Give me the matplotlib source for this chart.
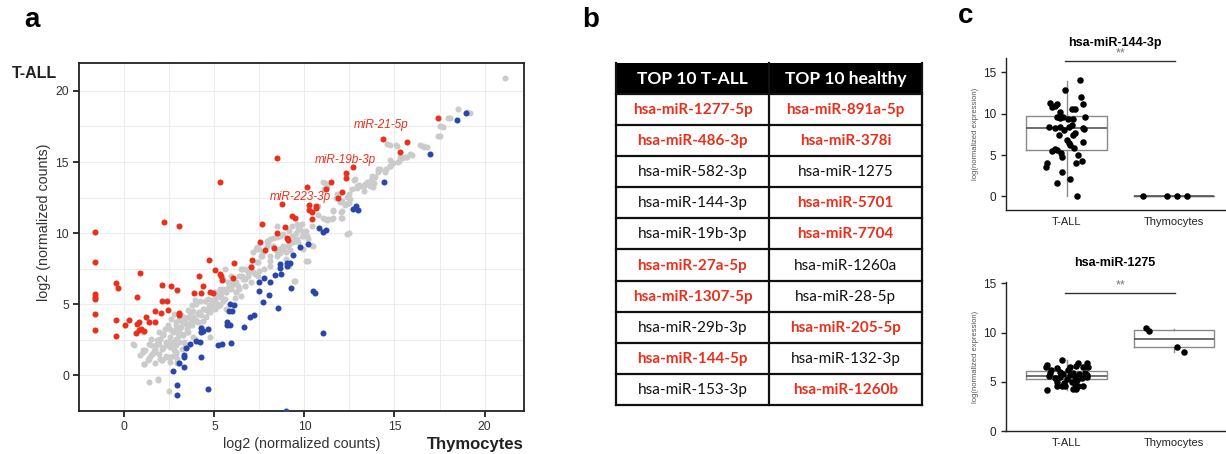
import numpy as np
import matplotlib.pyplot as plt
from matplotlib.patches import Rectangle

plt.rcParams['font.family'] = ['Liberation Sans', 'DejaVu Sans']

W, H = 1226, 454
red_col = '#e8301c'
blue_col = '#2a46a8'
grey_col = '#cbcbcb'

# ---- panel a: log2 counts, thymocytes (x) vs T-ALL (y)
red_x = [17.42, 14.35, 15.69, 15.28, 8.49, 12.68, 12.31, 12.31, 11.48, 10.12,
         11.18, 12.11, 11.85, 8.78, 10.27, 10.64, 10.64, 10.27, 10.42, 10.44,
         9.30, 9.49, 5.29, 2.19, 3.03, 7.63, 8.93, 8.45, 9.05, 9.07,
         7.56, 8.30, 7.80, 7.08, 7.04, 4.68, 6.07, 5.03, 5.29, 5.35,
         5.40, 6.04, 4.14, 4.36, 3.86, 4.25, 4.77, 4.92, 0.87, -0.46,
         -0.35, 2.10, 2.60, 2.95, 0.71, 2.10, 2.38, 2.06, 2.40, 1.73,
         1.39, 1.73, 1.21, 3.06, 3.03, -0.46, 0.24, 0.82, 0.71, 0.02,
         0.65, 0.82, 0.95, 1.10, -0.46,
         -1.62, -1.62, -1.62, -1.62, -1.62, -1.62, -1.62]
red_y = [18.06, 16.65, 16.44, 15.70, 15.30, 14.64, 14.22, 13.87, 13.57, 13.22,
         13.10, 12.91, 12.44, 12.05, 11.98, 11.93, 11.74, 11.65, 11.46, 10.99,
         11.18, 11.09, 13.57, 10.76, 10.48, 10.62, 10.43, 10.01, 9.68, 9.50,
         9.36, 8.98, 8.84, 8.09, 7.65, 8.09, 7.91, 7.44, 7.16, 6.97,
         6.74, 6.83, 6.97, 6.32, 5.78, 5.80, 5.89, 5.80, 7.18, 6.50,
         6.18, 6.34, 6.29, 6.04, 5.52, 5.24, 5.24, 4.37, 4.63, 4.56,
         3.79, 3.74, 4.12, 4.40, 4.26, 3.93, 3.93, 3.79, 3.63, 3.51,
         2.95, 3.18, 3.23, 3.13, 2.76,
         10.05, 7.95, 5.73, 5.52, 5.34, 4.34, 3.17]

blue_pts = [
    (18.96, 18.43), (18.48, 17.96), (16.95, 15.53), (14.43, 13.57), (12.72, 11.70),
    (12.98, 11.65), (12.87, 11.93), (10.83, 10.34), (11.05, 10.11), (11.18, 10.20),
    (10.21, 9.22), (9.78, 9.01), (9.38, 8.47), (8.64, 7.84), (8.64, 7.53),
    (9.01, 7.91), (9.20, 7.91), (9.01, 7.72), (8.38, 7.06), (8.71, 7.11),
    (7.74, 6.88), (7.48, 6.60), (8.11, 6.55), (7.48, 5.94), (8.04, 5.66),
    (7.70, 5.19), (8.54, 4.75), (9.23, 6.13), (10.45, 5.94), (10.60, 5.80),
    (11.01, 2.99), (5.85, 5.03), (6.09, 4.96), (5.81, 4.56), (5.99, 4.56),
    (5.70, 3.79), (5.70, 3.51), (5.89, 3.51), (6.96, 4.12), (7.22, 4.26),
    (6.67, 3.39), (5.18, 2.11), (5.42, 2.20), (5.91, 2.29), (4.64, 3.23),
    (4.27, 3.32), (4.36, 3.13), (4.23, 3.04), (4.18, 2.34), (3.96, 2.39),
    (3.62, 2.20), (3.40, 1.96), (3.29, 1.45), (3.34, 1.29), (4.25, 1.33),
    (3.06, 0.84), (3.32, 0.61), (2.69, 0.28), (2.92, -0.65), (4.62, -0.94),
    (2.95, -1.36), (9.0, -2.5)]

grey_pts = [
    (21.15, 20.94), (18.53, 18.71), (19.03, 18.53), (17.96, 18.13), (17.55, 17.50),
    (17.40, 16.84), (16.43, 16.19), (16.62, 16.09), (15.88, 15.58), (14.61, 16.28),
    (15.10, 16.19), (14.76, 15.13), (15.56, 15.35), (15.32, 15.32), (15.17, 15.02),
    (14.76, 14.74), (14.48, 14.32), (14.11, 14.50), (13.76, 14.04), (13.46, 13.61),
    (13.65, 13.33), (13.79, 13.22), (13.35, 13.43), (12.76, 13.71), (12.91, 13.29),
    (13.02, 13.38), (14.06, 14.27), (11.05, 13.61), (11.27, 13.33), (11.79, 12.75),
    (11.98, 12.16), (12.35, 12.51), (12.50, 12.12), (12.26, 11.98), (12.02, 11.46),
    (11.61, 11.65), (12.02, 11.09), (11.51, 10.99), (11.23, 10.95), (11.01, 11.09),
    (12.39, 9.96), (10.77, 11.93), (10.73, 11.27), (10.42, 10.48), (9.94, 10.06),
    (10.12, 9.82), (10.34, 9.17), (10.08, 8.07), (9.41, 6.67), (9.56, 10.62),
    (9.75, 10.29), (9.53, 10.01), (9.30, 9.82), (9.56, 9.59), (9.38, 9.36),
    (9.10, 9.12), (8.82, 9.12), (8.64, 8.89), (8.64, 8.61), (9.20, 8.84),
    (8.45, 8.42), (8.11, 7.72), (8.23, 9.64), (7.99, 9.36), (7.71, 8.66),
    (7.34, 7.95), (7.16, 8.66), (7.45, 7.37), (7.16, 7.25), (6.89, 7.02),
    (6.50, 7.49), (6.59, 6.78), (6.69, 6.32), (6.31, 6.32), (6.04, 6.43),
    (5.76, 6.55), (5.94, 6.08), (6.22, 5.85), (6.50, 5.61), (6.13, 5.43),
    (5.66, 5.85), (5.48, 6.08), (5.39, 5.50), (5.11, 5.50), (5.48, 5.26),
    (5.20, 4.91), (4.92, 5.15), (4.74, 4.80), (4.64, 4.44), (4.36, 4.68),
    (4.18, 5.26), (3.99, 5.03), (4.46, 5.26), (3.81, 4.56), (4.09, 4.33),
    (3.62, 4.09), (3.71, 3.74), (3.99, 3.86), (4.36, 3.86), (3.44, 3.63),
    (3.16, 3.39), (2.88, 3.27), (3.53, 3.04), (3.25, 2.81), (2.97, 2.92),
    (2.69, 3.04), (2.51, 2.69), (2.14, 2.81), (2.32, 2.34), (1.95, 2.46),
    (1.76, 2.11), (2.14, 1.92), (2.51, 1.99), (2.88, 2.11), (3.06, 2.34),
    (1.49, 2.57), (1.36, 2.22), (1.62, 1.75), (1.95, 1.52), (2.32, 1.40),
    (2.69, 1.36), (2.88, 1.64), (1.39, 1.22), (1.73, 0.89), (2.10, 1.05),
    (2.51, 0.94), (1.06, 1.68), (1.08, 0.82), (0.54, 2.15), (1.02, 3.04),
    (1.36, -0.47), (1.86, -0.30), (2.47, -1.12), (3.25, 4.09), (3.06, 3.98),
    (3.62, 4.44), (4.64, 5.38), (5.01, 5.85), (5.29, 6.08), (7.01, 7.60),
    (7.34, 9.06), (8.11, 8.05), (0.50, 2.19), (1.03, 1.77), (1.08, 0.79),
    (1.38, 1.19), (1.87, -0.28), (1.55, 1.54), (1.73, 1.89), (1.90, 2.24),
    (1.99, 2.59), (2.16, 2.94), (2.25, 3.29), (1.90, 3.06), (2.42, 2.36),
    (2.60, 2.12), (2.77, 1.77), (2.34, 1.31), (2.07, 1.07), (2.95, 1.19),
    (2.86, 2.59), (3.12, 2.82), (3.30, 2.36), (3.04, 3.29), (3.47, 3.06),
    (3.64, 3.52), (3.38, 3.87), (3.82, 4.10), (4.08, 3.76), (2.60, 3.99),
    (2.86, 3.76), (2.42, 3.52), (4.17, 4.45), (4.43, 4.69), (4.69, 4.92),
    (4.87, 5.27), (5.13, 5.62), (5.39, 5.85), (5.65, 6.08), (5.83, 6.31),
    (6.00, 6.55), (4.52, 4.10), (4.78, 4.45), (5.04, 4.69), (5.21, 5.03),
    (5.57, 5.38), (3.73, 4.92), (3.91, 5.27), (3.56, 4.57), (3.12, 4.22),
    (2.77, 4.34), (4.26, 3.41), (3.82, 2.71), (4.78, 2.71), (3.47, 2.01),
    (3.21, 1.89), (2.95, 0.84),
    # middle of the diagonal
    (9.32, 10.51), (9.66, 10.28), (9.84, 9.81), (9.49, 9.58), (9.14, 9.23),
    (8.80, 8.88), (8.45, 8.65), (8.09, 8.41), (7.92, 9.46), (8.27, 9.11),
    (7.31, 8.88), (7.57, 8.41), (7.40, 7.95), (7.05, 7.71), (6.87, 7.25),
    (6.52, 7.48), (6.35, 7.01), (5.92, 7.01), (5.57, 7.48), (5.48, 6.78),
    (8.97, 8.18), (9.14, 7.71), (9.49, 6.66), (9.93, 8.88), (8.62, 9.81),
    (8.45, 10.51), (7.23, 7.13), (6.70, 6.78),
    # upper diagonal
    (14.73, 16.22), (15.16, 16.15), (16.56, 16.15), (16.79, 16.06), (15.98, 15.52),
    (15.69, 15.36), (15.42, 15.29), (15.25, 15.06), (14.90, 14.94), (14.73, 14.71),
    (14.55, 14.48), (14.20, 14.48), (13.94, 13.97), (13.68, 13.73), (13.59, 13.55),
    (13.85, 13.55), (13.33, 13.31), (13.07, 13.31), (12.90, 13.19), (13.33, 12.96),
    (12.81, 13.78), (12.63, 13.08), (12.46, 12.73), (12.55, 12.38), (12.11, 12.26),
    (12.28, 12.03), (11.94, 12.73), (11.76, 12.50), (12.11, 11.56), (12.07, 11.10),
    (11.59, 11.56), (11.32, 10.98), (11.15, 10.98), (11.59, 11.10), (12.49, 9.98),
    (11.15, 13.55), (11.06, 13.08), (9.84, 10.63), (10.10, 10.16), (10.19, 9.58),
    (9.93, 9.81), (9.66, 9.35), (10.45, 9.11), (10.22, 8.06), (19.18, 18.48),
    (18.08, 18.09), (17.70, 17.46), (17.52, 16.80),
    # lower cloud
    (7.49, 8.88), (7.66, 8.41), (7.92, 9.11), (8.09, 9.58), (8.45, 9.70),
    (8.80, 9.93), (9.14, 10.16), (8.62, 8.88), (8.97, 8.65), (6.70, 7.48),
    (6.52, 7.01), (6.18, 6.55), (5.92, 6.20), (5.65, 5.85), (5.39, 5.50),
    (5.04, 5.27), (4.87, 4.92), (4.61, 4.57), (4.26, 4.22), (3.99, 3.87),
    (3.73, 3.52), (3.47, 3.29), (3.21, 2.94), (2.95, 2.59), (2.69, 2.36),
    (2.34, 2.12), (2.07, 1.89), (1.73, 1.66), (1.47, 1.42), (1.29, 1.07),
    (1.99, 1.19), (2.51, 1.31), (2.86, 1.54), (3.38, 2.12), (3.91, 2.59),
    (4.26, 3.06), (3.56, 4.10), (3.21, 3.76), (2.86, 3.52), (2.51, 3.29),
    (2.16, 2.82), (1.81, 2.47), (1.47, 2.12), (1.12, 1.77), (0.85, 1.42),
    (5.65, 4.69), (5.30, 4.92), (6.18, 5.85), (6.35, 6.08), (6.70, 6.31),
    (7.05, 6.55), (7.40, 7.01), (7.75, 7.48)]

mir_labels = ['miR-21-5p', 'miR-19b-3p', 'miR-223-3p']
mir_label_x = [12.72, 10.55, 8.08]
mir_label_y = [17.6, 15.16, 12.56]

# ---- panel b: table
table_head = ['TOP 10 T-ALL', 'TOP 10 healthy']
top_tall = ['hsa-miR-1277-5p', 'hsa-miR-486-3p', 'hsa-miR-582-3p', 'hsa-miR-144-3p',
            'hsa-miR-19b-3p', 'hsa-miR-27a-5p', 'hsa-miR-1307-5p', 'hsa-miR-29b-3p',
            'hsa-miR-144-5p', 'hsa-miR-153-3p']
top_tall_red = [1, 1, 0, 0, 0, 1, 1, 0, 1, 0]
top_healthy = ['hsa-miR-891a-5p', 'hsa-miR-378i', 'hsa-miR-1275', 'hsa-miR-5701',
               'hsa-miR-7704', 'hsa-miR-1260a', 'hsa-miR-28-5p', 'hsa-miR-205-5p',
               'hsa-miR-132-3p', 'hsa-miR-1260b']
top_healthy_red = [1, 1, 0, 1, 1, 0, 0, 1, 0, 1]

# ---- panel c: boxplots
groups = ['T-ALL', 'Thymocytes']
m144_tall_x = [1.127, 0.983, 1.13, 1.15, 0.85, 0.89, 0.915, 0.865, 0.94, 1.05,
               1.08, 0.91, 0.94, 0.97, 1.01, 1.06, 1.17, 0.84, 0.89, 0.94,
               0.98, 1.02, 1.05, 1.15, 1.16, 1.08, 1.06, 0.93, 1.00, 1.02,
               1.03, 1.15, 1.07, 0.89, 0.865, 0.91, 0.95, 0.96, 1.11, 1.14,
               1.09, 0.82, 0.81, 0.96, 1.03, 0.91, 1.10]
m144_tall_y = [14.03, 12.82, 12.02, 11.17, 11.25, 10.97, 11.17, 10.77, 10.2, 10.52,
               10.52, 9.56, 9.48, 9.56, 9.31, 9.35, 9.56, 8.43, 8.27, 8.43,
               8.02, 8.43, 8.67, 8.27, 8.10, 7.62, 7.38, 7.46, 6.81, 6.49,
               6.21, 6.57, 5.85, 5.69, 5.52, 5.60, 5.20, 4.80, 5.04, 4.31,
               3.99, 4.07, 3.59, 2.90, 2.10, 1.65, 0.04]
m144_thy_x = [1.715, 1.93, 2.03, 2.12]
m144_thy_y = [0, 0, 0, 0]
m144_stats = [dict(q1=5.6, med=8.31, q3=9.72, whislo=0.0, whishi=14.0),
              dict(q1=0.0, med=0.0, q3=0.0, whislo=0.0, whishi=0.0)]

m1275_tall_x = [0.96, 0.82, 0.81, 0.91, 1.09, 1.11, 1.15, 1.19, 1.20, 0.86,
                0.94, 1.01, 1.06, 0.97, 1.03, 1.08, 1.12, 1.17, 0.84, 0.89,
                0.94, 1.00, 1.05, 1.10, 1.14, 1.19, 1.19, 0.85, 0.91, 0.96,
                0.99, 1.06, 1.09, 1.11, 1.15, 0.82, 0.98, 0.91, 1.08, 1.03]
m1275_tall_y = [7.23, 6.72, 6.49, 6.39, 6.62, 6.89, 6.49, 6.89, 6.55, 6.22,
                6.05, 6.22, 5.95, 5.81, 5.71, 5.54, 5.81, 5.95, 5.61, 5.37,
                5.54, 5.27, 5.03, 5.20, 5.37, 5.47, 5.71, 5.88, 4.63, 4.59,
                4.63, 4.26, 4.32, 4.59, 4.59, 4.19, 4.93, 5.03, 4.80, 6.55]
m1275_thy_x = [1.74, 1.77, 2.03, 2.09]
m1275_thy_y = [10.44, 10.2, 8.58, 8.07]
m1275_stats = [dict(q1=5.34, med=5.64, q3=6.15, whislo=4.19, whishi=7.23),
               dict(q1=8.51, med=9.39, q3=10.27, whislo=8.04, whishi=10.4)]

fig = plt.figure(figsize=(W / 100, H / 100), dpi=100)
fig.patch.set_facecolor('white')

def fx(px):
    return px / W

def fy(py):
    return 1 - py / H

# ================= panel a
ax_left, ax_right = 79.3, 524
ax = fig.add_axes([fx(ax_left), fy(411), fx(ax_right - ax_left), (411 - 63.3) / H])
gp = np.array(grey_pts)
bp = np.array(blue_pts)
ax.scatter(gp[:, 0], gp[:, 1], s=19, color=grey_col, lw=0, zorder=2)
ax.scatter(bp[:, 0], bp[:, 1], s=19, color=blue_col, lw=0, zorder=3)
ax.scatter(red_x, red_y, s=19, color=red_col, lw=0, zorder=3)
for lab, lx, ly in zip(mir_labels, mir_label_x, mir_label_y):
    ax.text(lx, ly, lab, color=red_col, style='italic', fontsize=8.5,
            ha='left', va='center', zorder=4)

ax.set_xlim(-1.58, 22.19)
ax.set_ylim(-2.38, 21.94)
ax.set_xticks([0, 5, 10, 15, 20])
ax.set_yticks([0, 5, 10, 15, 20])
ax.set_xticks(np.arange(-2.5, 22.5, 2.5), minor=True)
ax.set_yticks(np.arange(-2.5, 22.5, 2.5), minor=True)
ax.grid(which='both', color='#ececec', lw=0.7)
ax.set_axisbelow(True)
ax.tick_params(which='major', direction='out', length=4, width=1.3,
               labelsize=8.8, colors='#222', labelcolor='#333')
ax.tick_params(which='minor', length=0)
for sp in ax.spines.values():
    sp.set_linewidth(1.3)
    sp.set_color('#222')

fig.text(fx(302), fy(444), 'log2 (normalized counts)', fontsize=10.3,
         ha='center', va='center', color='#333')
fig.text(fx(44.5), fy(222), 'log2 (normalized counts)', fontsize=10.3,
         ha='center', va='center', rotation=90, color='#333')
fig.text(fx(ax_right), fy(444), 'Thymocytes', fontsize=12, weight='bold',
         ha='right', va='center', color='#222')
fig.text(fx(12.2), fy(73), 'T-ALL', fontsize=11.5, weight='bold',
         ha='left', va='center', color='#222')

# panel labels
fig.text(fx(31.5), fy(20), 'a', fontsize=20, weight='bold', ha='center', va='center')
fig.text(fx(591), fy(20), 'b', fontsize=20, weight='bold', ha='center', va='center')
fig.text(fx(966), fy(16), 'c', fontsize=20, weight='bold', ha='center', va='center')

# ================= panel b
tb = fig.add_axes([fx(616), fy(405), fx(922 - 616), (405 - 62.7) / H])
nrow = len(top_tall) + 1
tb.set_xlim(0, 2)
tb.set_ylim(nrow, 0)
tb.axis('off')
tb.add_patch(Rectangle((0, 0), 2, 1, color='black', lw=0))
for j, h in enumerate(table_head):
    tb.text(j + 0.5, 0.52, h, color='white', weight='bold', fontsize=12.5,
            family='Lato', ha='center', va='center')
for col, (names, flags) in enumerate([(top_tall, top_tall_red),
                                      (top_healthy, top_healthy_red)]):
    for i, (nm, fl) in enumerate(zip(names, flags)):
        tb.text(col + 0.5, i + 1.52, nm, fontsize=11, family='Lato',
                color=red_col if fl else '#111',
                weight='bold' if fl else 'normal', ha='center', va='center')
for r in range(1, nrow + 1):
    tb.plot([0, 2], [r, r], color='#111', lw=1.6, clip_on=False,
            solid_capstyle='projecting')
for c in [0, 1, 2]:
    tb.plot([c, c], [0, nrow], color='#111', lw=1.6, clip_on=False,
            solid_capstyle='projecting')

# ================= panel c
def box_panel(ax, stats, tall_x, tall_y, thy_x, thy_y, ylim, bar_y, title, title_py):
    st = []
    for s, lab in zip(stats, groups):
        d = dict(s)
        d['fliers'] = []
        d['label'] = lab
        st.append(d)
    ax.bxp(st, positions=[1, 2], widths=0.75, showcaps=False, showfliers=False,
           boxprops=dict(color='#8a8a8a', lw=1.0),
           whiskerprops=dict(color='#8a8a8a', lw=1.0),
           medianprops=dict(color='#555', lw=1.2))
    ax.scatter(tall_x, tall_y, s=22, color='black', lw=0, zorder=5)
    ax.scatter(thy_x, thy_y, s=22, color='black', lw=0, zorder=5)
    ax.set_xlim(0.434, 2.474)
    ax.set_ylim(*ylim)
    ax.set_yticks([0, 5, 10, 15])
    ax.set_xticks([1, 2])
    ax.set_xticklabels(groups)
    ax.tick_params(axis='y', direction='out', length=3.5, width=1.0,
                   labelsize=8.5, colors='#222')
    ax.tick_params(axis='x', length=0, labelsize=8, pad=5, colors='#222')
    for s in ['top', 'right']:
        ax.spines[s].set_visible(False)
    for s in ['left', 'bottom']:
        ax.spines[s].set_linewidth(1.0)
        ax.spines[s].set_color('#222')
    ax.set_ylabel('log(normalized expression)', fontsize=5.5, color='#555',
                  labelpad=3)
    ax.plot([0.99, 2.01], [bar_y, bar_y], color='#333', lw=1.0, clip_on=False)
    ax.text(1.5, bar_y + 0.15, '**', color='#777', fontsize=9, ha='center',
            va='bottom', clip_on=False)
    fig.text(fx(1115), fy(title_py), title, fontsize=9, weight='bold',
             ha='center', va='center')

axc1 = fig.add_axes([fx(1005.7), fy(210), fx(1225 - 1005.7), (210 - 58.3) / H])
box_panel(axc1, m144_stats, m144_tall_x, m144_tall_y, m144_thy_x, m144_thy_y,
          (-1.65, 16.7), 16.37, 'hsa-miR-144-3p', 43.3)

axc2 = fig.add_axes([fx(1005.7), fy(431.3), fx(1225 - 1005.7), (431.3 - 281.7) / H])
box_panel(axc2, m1275_stats, m1275_tall_x, m1275_tall_y, m1275_thy_x, m1275_thy_y,
          (0, 15.16), 14.05, 'hsa-miR-1275', 263.3)

fig.savefig('out.png', dpi=100)
